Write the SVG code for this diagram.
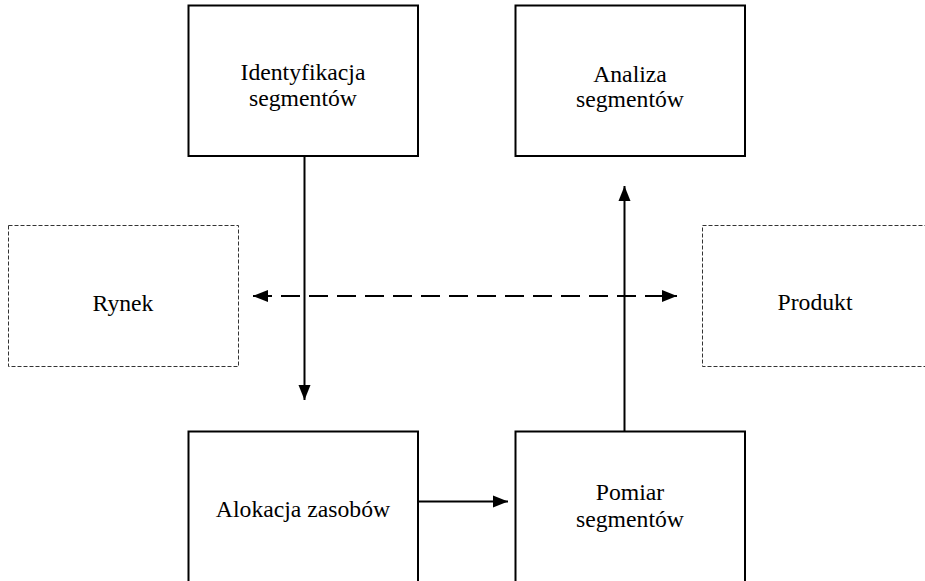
<svg xmlns="http://www.w3.org/2000/svg" width="925" height="581" viewBox="0 0 925 581">
<style>
.box{fill:#fff;stroke:#000;stroke-width:2}
.dbox{fill:#fff;stroke:#333;stroke-width:1;stroke-dasharray:4 2}
.lbl{font-family:"Liberation Serif","Times New Roman",serif;font-size:23.7px;fill:#000;text-anchor:middle}
.con{stroke:#000;stroke-width:2;fill:none}
.dash{stroke-dasharray:19 9}
</style>
<defs>
<marker id="ah" markerUnits="userSpaceOnUse" markerWidth="16" markerHeight="14" viewBox="0 0 16 14" refX="15" refY="7" orient="auto-start-reverse">
<path d="M0,1 L15,7 L0,13 Z" fill="#000"/>
</marker>
</defs>
<rect width="925" height="581" fill="#fff"/>
<g id="identyfikacja"><rect class="box" x="188.5" y="5.5" width="229.5" height="150.5"/><text class="lbl" x="303" y="80">Identyfikacja</text><text class="lbl" x="303" y="106">segmentów</text></g>
<g id="analiza"><rect class="box" x="515.5" y="5.5" width="229.5" height="150.5"/><text class="lbl" x="630" y="82">Analiza</text><text class="lbl" x="630" y="107">segmentów</text></g>
<g id="rynek"><rect class="dbox" x="8.5" y="225.5" width="230" height="141"/><text class="lbl" x="123" y="310.5">Rynek</text></g>
<g id="produkt"><rect class="dbox" x="702.5" y="225.5" width="240" height="141"/><text class="lbl" x="815" y="310">Produkt</text></g>
<g id="alokacja"><rect class="box" x="188.5" y="431.5" width="229.5" height="160"/><text class="lbl" x="303" y="516.5">Alokacja zasobów</text></g>
<g id="pomiar"><rect class="box" x="515.5" y="431.5" width="229.5" height="160"/><text class="lbl" x="630" y="500">Pomiar</text><text class="lbl" x="630" y="526.5">segmentów</text></g>
<g id="connectors">
<line class="con" x1="304.5" y1="156" x2="304.5" y2="400" marker-end="url(#ah)"/>
<line class="con" x1="418" y1="501.5" x2="508" y2="501.5" marker-end="url(#ah)"/>
<line class="con" x1="624.5" y1="431.5" x2="624.5" y2="186" marker-end="url(#ah)"/>
<line class="con dash" x1="253" y1="296" x2="677" y2="296" marker-start="url(#ah)" marker-end="url(#ah)"/>
</g>
</svg>
